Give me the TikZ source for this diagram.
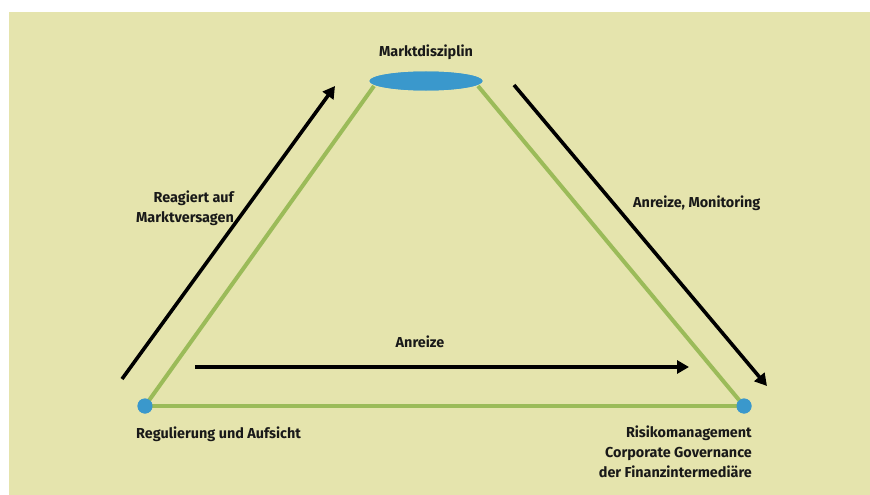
\documentclass[tikz,border=0pt]{standalone}
\usepackage{fontspec}
\setmainfont{Fira Sans}
\usetikzlibrary{arrows.meta,shapes.geometric,calc}
\definecolor{bgcol}{HTML}{E5E4AD}
\definecolor{gline}{HTML}{9BBB59}
\definecolor{bdot}{HTML}{3A98CC}
\begin{document}
\begin{tikzpicture}[x=1pt,y=-1pt,
  lbl/.style={font=\bfseries\fontsize{14.4}{20}\selectfont, text=black!90, inner sep=0pt},
  side/.style={draw=gline, line width=4pt},
  flow/.style={draw=black, line width=3.6pt, -{Triangle[length=12pt,width=13pt]}},
  dot/.style={circle, fill=bdot, minimum size=15pt, inner sep=0pt}]
\useasboundingbox (0,0) rectangle (870,495);
\fill[white] (0,0) rectangle (870,495);
\fill[bgcol] (9,12) rectangle (870,495);
% nodes
\node[ellipse, fill=bdot, minimum width=113pt, minimum height=19pt, inner sep=0pt] (top) at (426,81) {};
\node[dot] (left) at (145,406) {};
\node[dot] (right) at (744,406) {};
% triangle sides
\draw[side] (left.center) -- ($(top.center)+(-52,5)$);
\draw[side] (right.center) -- ($(top.center)+(52,5)$);
\draw[side] (left.center) -- (right.center);
\node[ellipse, fill=bdot, minimum width=113pt, minimum height=19pt, inner sep=0pt] at (426,81) {};
\node[dot] at (145,406) {};
\node[dot] at (744,406) {};
% arrows
\coordinate (a1) at (122,379); \coordinate (a2) at (335,86);
\coordinate (b1) at (514,85); \coordinate (b2) at (767,386);
\coordinate (c1) at (195,367); \coordinate (c2) at (689,367);
\draw[flow] (a1) -- (a2);
\draw[flow] (b1) -- (b2);
\draw[flow] (c1) -- (c2);
% labels
\node[lbl] (tl) at (426,52) {Marktdisziplin};
\node[lbl, align=right, anchor=east] (ll) at (234,208) {Reagiert auf\\Marktversagen};
\node[lbl, anchor=west] (rl) at (633,203) {Anreize, Monitoring};
\node[lbl] (ml) at (420,342) {Anreize};
\node[lbl, anchor=west] (bl) at (136,434) {Regulierung und Aufsicht};
\node[lbl, align=right, anchor=north east] (br) at (752,426) {Risikomanagement\\Corporate Governance\\der Finanzintermediäre};
\end{tikzpicture}
\end{document}
